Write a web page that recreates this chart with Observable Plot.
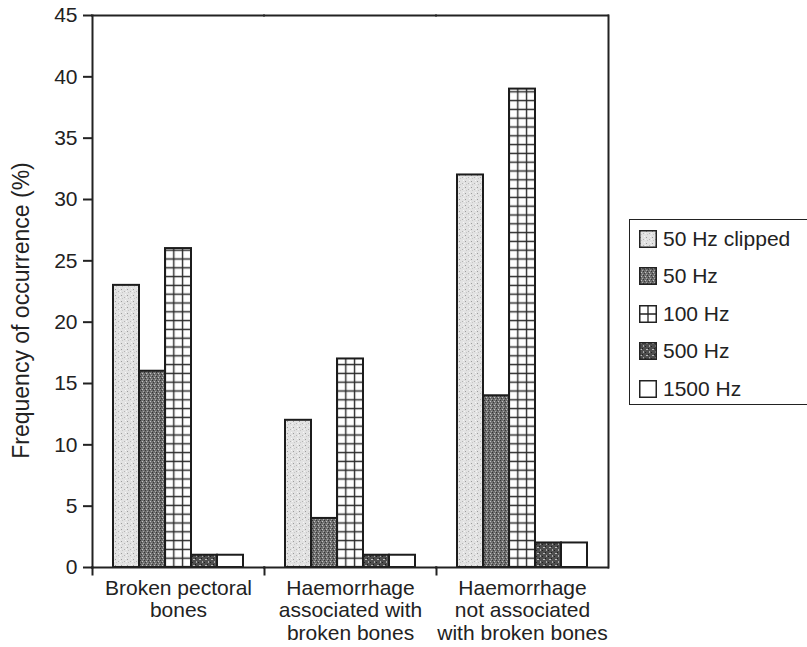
<!DOCTYPE html>
<html>
<head>
<meta charset="utf-8">
<script src="https://cdn.jsdelivr.net/npm/d3@7"></script>
<script src="https://cdn.jsdelivr.net/npm/@observablehq/plot@0.6"></script>
<style>
  html, body { margin: 0; padding: 0; background: #fff; }
  #wrap { position: relative; width: 807px; height: 647px; overflow: hidden; font-family: "Liberation Sans", Arial, Helvetica, sans-serif; color: #222; }
  #legend { position: absolute; left: 629px; top: 219px; width: 190px; height: 186px; border: 1.5px solid #222; box-sizing: border-box; background: #fff; }
  .item { position: absolute; left: 9px; height: 20px; display: flex; align-items: center; font-size: 21px; line-height: 20px; white-space: nowrap; }
  .item svg { margin-right: 6px; flex: none; }
</style>
</head>
<body>
<svg width="0" height="0" style="position:absolute">
  <defs>
    <pattern id="pLight" patternUnits="userSpaceOnUse" width="6" height="6">
      <rect width="6" height="6" fill="#e2e2e2"/>
      <rect x="1" y="1" width="1" height="1" fill="#9c9c9c"/>
      <rect x="4" y="3" width="1" height="1" fill="#b4b4b4"/>
      <rect x="2" y="4" width="1" height="1" fill="#c6c6c6"/>
      <rect x="5" y="0" width="1" height="1" fill="#f6f6f6"/>
      <rect x="0" y="3" width="1" height="1" fill="#f4f4f4"/>
    </pattern>
    <pattern id="pDark" patternUnits="userSpaceOnUse" width="4" height="4">
      <rect width="4" height="4" fill="#6e6e6e"/>
      <rect x="0" y="0" width="1" height="1" fill="#333"/>
      <rect x="2" y="1" width="1" height="1" fill="#c4c4c4"/>
      <rect x="1" y="2" width="1" height="1" fill="#3a3a3a"/>
      <rect x="3" y="3" width="1" height="1" fill="#aaa"/>
    </pattern>
    <pattern id="pGrid" patternUnits="userSpaceOnUse" width="8.8" height="8.8">
      <rect width="8.8" height="8.8" fill="#fff"/>
      <path d="M4.4 0V8.8M0 4.4H8.8" stroke="#2a2a2a" stroke-width="1.4"/>
    </pattern>
    <pattern id="pDark2" patternUnits="userSpaceOnUse" width="6" height="6">
      <rect width="6" height="6" fill="#4e4e4e"/>
      <rect x="1" y="1" width="2" height="1" fill="#bdbdbd"/>
      <rect x="4" y="3" width="1" height="2" fill="#a8a8a8"/>
      <rect x="0" y="4" width="1" height="1" fill="#222"/>
      <rect x="3" y="0" width="1" height="1" fill="#1e1e1e"/>
    </pattern>
    <pattern id="pWhite" patternUnits="userSpaceOnUse" width="4" height="4">
      <rect width="4" height="4" fill="#fff"/>
    </pattern>
  </defs>
</svg>
<div id="wrap">
  <div id="chart"></div>
  <div id="legend"></div>
</div>
<script>
// ---- data ----
const groups = [
  "Broken pectoral bones",
  "Haemorrhage associated with broken bones",
  "Haemorrhage not associated with broken bones"
];
const groupLabels = [
  "Broken pectoral\nbones",
  "Haemorrhage\nassociated with\nbroken bones",
  "Haemorrhage\nnot associated\nwith broken bones"
];
const series = ["50 Hz clipped", "50 Hz", "100 Hz", "500 Hz", "1500 Hz"];
const hz50clipped = [23, 12, 32];
const hz50 = [16, 4, 14];
const hz100 = [26, 17, 39];
const hz500 = [1, 1, 2];
const hz1500 = [1, 1, 2];
const yTicks = [0, 5, 10, 15, 20, 25, 30, 35, 40, 45];
const yLabel = "Frequency of occurrence (%)";

const fills = ["url(#pLight)", "url(#pDark)", "url(#pGrid)", "url(#pDark2)", "url(#pWhite)"];
const seriesValues = [hz50clipped, hz50, hz100, hz500, hz1500];
const rows = groups.flatMap((g, i) => series.map((s, j) => ({group: g, series: s, value: seriesValues[j][i]})));

const W = 807, H = 647, ML = 92, MR = 199, MT = 15, MB = 80;
const font = '"Liberation Sans", Arial, Helvetica, sans-serif';

const plot = Plot.plot({
  width: W, height: H,
  marginLeft: ML, marginRight: MR, marginTop: MT, marginBottom: MB,
  style: {fontFamily: font, fontSize: "21px", color: "#222", background: "#fff", overflow: "visible"},
  fx: {domain: groups, padding: 0},
  x: {domain: series, paddingInner: 0, paddingOuter: 0.76, axis: null},
  y: {domain: [0, 45]},
  color: {type: "ordinal", domain: series, range: fills},
  marks: [
    Plot.barY(rows, {fx: "group", x: "series", y: "value", fill: "series", stroke: "#1c1c1c", strokeWidth: 2, inset: 0}),
    Plot.ruleY([45], {stroke: "#222", strokeWidth: 2, insetLeft: -1, insetRight: -1}),
    Plot.ruleY([0], {stroke: "#222", strokeWidth: 2, insetLeft: -1, insetRight: -1}),
    Plot.frame({anchor: "left", stroke: "#222", strokeWidth: 2, facetAnchor: "left"}),
    Plot.frame({anchor: "right", stroke: "#222", strokeWidth: 2, facetAnchor: "right"}),
    // short group-boundary ticks below the baseline
    Plot.frame({anchor: "left", stroke: "#222", strokeWidth: 2, insetTop: H - MB - MT, insetBottom: -7}),
    Plot.axisY({ticks: yTicks, tickSize: 9, tickPadding: 6, strokeWidth: 2, fontSize: 21, fill: "#222", label: null}),
    Plot.text([yLabel], {frameAnchor: "left", facetAnchor: "left", rotate: -90, dx: -71, dy: 19,
      fontSize: 23, fill: "#222", textAnchor: "middle", lineAnchor: "middle"}),
    Plot.axisFx({anchor: "bottom", tickSize: 0, tickPadding: 11, fontSize: 21, fill: "#222", lineHeight: 1.08,
      tickFormat: g => groupLabels[groups.indexOf(g)], label: null})
  ]
});
document.getElementById("chart").appendChild(plot);

// align grid pattern with the 100 Hz bars
const gridRect = d3.select(plot).selectAll("rect").filter(function() { return this.getAttribute("fill") === "url(#pGrid)"; }).node();
if (gridRect) {
  const rx = +gridRect.getAttribute("x");
  d3.select("#pGrid").attr("x", rx - 4.4).attr("y", (H - MB) - 4.4);
}

// legend
const legend = d3.select("#legend");
const rowY = [20, 57, 95, 132, 170];
series.forEach((s, i) => {
  const item = legend.append("div").attr("class", "item").style("top", (rowY[i] - 10 - 1.5) + "px");
  const sw = item.append("svg").attr("width", 18).attr("height", 18);
  sw.append("rect").attr("x", 0.75).attr("y", 0.75).attr("width", 16.5).attr("height", 16.5)
    .attr("fill", i === 2 ? "#fff" : fills[i]).attr("stroke", "#222").attr("stroke-width", 1.5);
  if (i === 2) {
    sw.append("path").attr("d", "M9 1V17M1 9H17").attr("stroke", "#222").attr("stroke-width", 1.3);
  }
  item.append("span").text(s);
});
</script>
</body>
</html>
